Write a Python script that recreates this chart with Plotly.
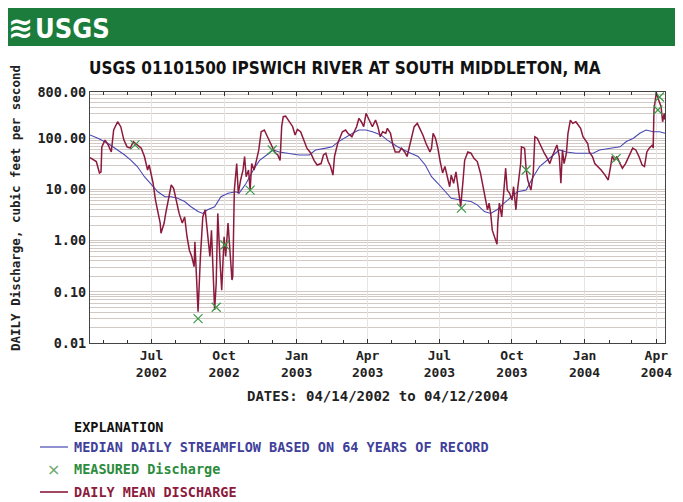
import plotly.graph_objects as go

# ---------------- data ----------------
daily_dates = [
    "2002-04-14","2002-04-16","2002-04-22","2002-04-26","2002-04-28","2002-04-29","2002-05-03","2002-05-07",
    "2002-05-11","2002-05-14","2002-05-19","2002-05-23","2002-05-27","2002-05-31","2002-06-04","2002-06-08",
    "2002-06-13","2002-06-18","2002-06-22","2002-06-26","2002-06-28","2002-07-01","2002-07-03","2002-07-06",
    "2002-07-09","2002-07-12","2002-07-13","2002-07-17","2002-07-19","2002-07-23","2002-07-26","2002-07-29",
    "2002-08-01","2002-08-05","2002-08-09","2002-08-12","2002-08-15","2002-08-18","2002-08-21","2002-08-24",
    "2002-08-25","2002-08-29","2002-09-01","2002-09-04","2002-09-07","2002-09-10","2002-09-13","2002-09-15",
    "2002-09-19","2002-09-21","2002-09-23","2002-09-26","2002-09-28","2002-10-01","2002-10-03","2002-10-06",
    "2002-10-08","2002-10-11","2002-10-12","2002-10-14","2002-10-17","2002-10-19","2002-10-22","2002-10-25",
    "2002-10-27","2002-10-29","2002-11-01","2002-11-03","2002-11-05","2002-11-08","2002-11-11","2002-11-14",
    "2002-11-17","2002-11-21","2002-11-25","2002-11-30","2002-12-04","2002-12-08","2002-12-11","2002-12-13",
    "2002-12-15","2002-12-18","2002-12-23","2002-12-27","2002-12-30","2003-01-02","2003-01-06","2003-01-10",
    "2003-01-14","2003-01-19","2003-01-23","2003-01-27","2003-02-01","2003-02-04","2003-02-07","2003-02-10",
    "2003-02-13","2003-02-16","2003-02-18","2003-02-22","2003-02-24","2003-02-28","2003-03-04","2003-03-07",
    "2003-03-12","2003-03-18","2003-03-21","2003-03-24","2003-03-27","2003-03-30","2003-04-01","2003-04-04",
    "2003-04-07","2003-04-11","2003-04-14","2003-04-17","2003-04-20","2003-04-24","2003-04-26","2003-04-30",
    "2003-05-03","2003-05-06","2003-05-11","2003-05-14","2003-05-18","2003-05-21","2003-05-24","2003-05-27",
    "2003-05-30","2003-06-03","2003-06-06","2003-06-10","2003-06-14","2003-06-19","2003-06-21","2003-06-23",
    "2003-06-26","2003-06-29","2003-07-02","2003-07-05","2003-07-08","2003-07-11","2003-07-14","2003-07-16",
    "2003-07-19","2003-07-22","2003-07-25","2003-07-28","2003-07-31","2003-08-02","2003-08-06","2003-08-10",
    "2003-08-14","2003-08-18","2003-08-22","2003-08-26","2003-08-28","2003-08-31","2003-09-02","2003-09-04",
    "2003-09-06","2003-09-09","2003-09-12","2003-09-13","2003-09-15","2003-09-18","2003-09-20","2003-09-23",
    "2003-09-25","2003-09-28","2003-10-01","2003-10-03","2003-10-06","2003-10-08","2003-10-12","2003-10-13",
    "2003-10-17","2003-10-19","2003-10-21","2003-10-25","2003-10-28","2003-10-30","2003-11-02","2003-11-05",
    "2003-11-08","2003-11-11","2003-11-15","2003-11-18","2003-11-21","2003-11-24","2003-11-27","2003-11-30",
    "2003-12-02","2003-12-04","2003-12-06","2003-12-09","2003-12-11","2003-12-14","2003-12-17","2003-12-21",
    "2003-12-24","2003-12-27","2003-12-30","2004-01-02","2004-01-05","2004-01-07","2004-01-11","2004-01-14",
    "2004-01-18","2004-01-22","2004-01-27","2004-01-31","2004-02-03","2004-02-05","2004-02-08","2004-02-11",
    "2004-02-15","2004-02-18","2004-02-22","2004-02-26","2004-03-02","2004-03-06","2004-03-10","2004-03-14",
    "2004-03-17","2004-03-20","2004-03-23","2004-03-27","2004-03-28","2004-03-29","2004-04-01","2004-04-04",
    "2004-04-07","2004-04-09","2004-04-11","2004-04-12",
]
daily_mean = [
    42, 40, 35, 21, 22, 68, 92, 74,
    54, 145, 210, 168, 92, 68, 64, 86,
    74, 64, 44, 24, 30, 17.7, 13.2, 6.2,
    3.4, 2.2, 1.39, 2.2, 3.4, 7.2, 12.2, 10.5,
    6.2, 3.4, 2.2, 2.9, 1.19, 0.65, 0.49, 0.31,
    0.95, 0.041, 0.49, 2.9, 4.0, 1.39, 0.49, 1.6,
    0.044, 0.147, 3.4, 0.36, 0.108, 1.19, 0.49, 2.2,
    0.76, 0.17, 0.20, 9.7, 32, 8.4, 15.3, 24,
    44, 17.7, 24, 9.7, 32, 24, 37, 59,
    134, 145, 107, 74, 54, 47, 37, 168,
    263, 270, 210, 168, 116, 149, 134, 92,
    64, 51, 37, 30, 32, 47, 51, 35,
    28, 19, 44, 79, 92, 134, 145, 125,
    107, 168, 245, 210, 168, 306, 263, 210,
    168, 226, 168, 107, 134, 125, 156, 125,
    74, 54, 54, 64, 54, 44, 68, 116,
    168, 195, 156, 116, 79, 54, 64, 125,
    100, 64, 35, 21, 28, 17.7, 11.3, 19,
    13.2, 22, 9.7, 4.6, 15.3, 37, 54, 51,
    40, 35, 21, 9.7, 6.2, 4.0, 5.4, 3.4,
    1.6, 1.19, 0.85, 2.2, 5.4, 2.9, 7.2, 26,
    9.7, 8.4, 6.2, 11.3, 4.0, 9.7, 32, 68,
    64, 24, 15.3, 9.7, 21, 107, 100, 79,
    64, 51, 40, 32, 44, 59, 74, 44,
    13.2, 59, 32, 51, 125, 226, 195, 210,
    181, 156, 107, 92, 79, 54, 44, 32,
    28, 24, 19, 15.3, 28, 44, 37, 44,
    32, 26, 32, 44, 64, 59, 44, 30,
    28, 54, 64, 74, 64, 356, 780, 557,
    412, 210, 306, 230,
]

median_dates = [
    "2002-04-14","2002-04-24","2002-05-07","2002-05-19","2002-05-28","2002-06-05","2002-06-13","2002-06-22",
    "2002-07-01","2002-07-09","2002-07-18","2002-07-26","2002-08-03","2002-08-12","2002-08-20","2002-08-29",
    "2002-09-04","2002-09-10","2002-09-19","2002-09-27","2002-10-06","2002-10-16","2002-10-20","2002-10-29",
    "2002-11-07","2002-11-15","2002-11-24","2002-12-02","2002-12-10","2002-12-23","2003-01-04","2003-01-17",
    "2003-01-25","2003-02-07","2003-02-15","2003-02-23","2003-03-05","2003-03-13","2003-03-21","2003-03-30",
    "2003-04-07","2003-04-18","2003-04-26","2003-05-09","2003-05-22","2003-06-04","2003-06-13","2003-06-21",
    "2003-06-29","2003-07-07","2003-07-16","2003-07-28","2003-08-10","2003-08-18","2003-08-27","2003-09-04",
    "2003-09-12","2003-09-21","2003-09-30","2003-10-08","2003-10-19","2003-10-28","2003-11-05","2003-11-14",
    "2003-11-22","2003-11-30","2003-12-09","2003-12-21","2004-01-03","2004-01-12","2004-01-20","2004-02-02",
    "2004-02-15","2004-02-23","2004-03-03","2004-03-11","2004-03-19","2004-03-28","2004-04-05","2004-04-12",
]
median_flow = [
    116, 100, 79, 59, 47, 37, 28, 17.7,
    12.2, 9.0, 7.2, 7.2, 6.7, 5.8, 4.6, 3.7,
    3.4, 4.0, 4.6, 7.2, 8.4, 9.0, 8.4, 13.2,
    24, 37, 47, 59, 54, 51, 47, 47,
    59, 64, 68, 86, 107, 125, 145, 145,
    134, 116, 92, 68, 54, 44, 30, 17.7,
    13.2, 9.7, 6.7, 6.2, 5.8, 5.0, 3.7, 3.4,
    4.0, 5.4, 7.2, 9.0, 9.7, 17.7, 28, 37,
    47, 59, 54, 51, 51, 51, 59, 64,
    68, 86, 100, 125, 145, 134, 134, 125,
]

measured_dates = ["2002-06-10", "2002-08-29", "2002-09-21", "2002-10-02", "2002-11-03", "2002-12-01",
                  "2003-07-29", "2003-10-19", "2004-02-10", "2004-04-03", "2004-04-05"]
measured_flow = [74, 0.030, 0.050, 0.82, 9.7, 59, 4.3, 24, 40, 356, 640]

y_tick_vals = [0.01, 0.1, 1, 10, 100, 800]
y_tick_text = ["0.01", "0.10", "1.00", "10.00", "100.00", "800.00"]
x_tick_vals = ["2002-07-01", "2002-10-01", "2003-01-01", "2003-04-01",
               "2003-07-01", "2003-10-01", "2004-01-01", "2004-04-01"]
x_tick_text = ["Jul<br>2002", "Oct<br>2002", "Jan<br>2003", "Apr<br>2003",
               "Jul<br>2003", "Oct<br>2003", "Jan<br>2004", "Apr<br>2004"]
month_ticks = ["2002-05-01", "2002-06-01", "2002-07-01", "2002-08-01", "2002-09-01", "2002-10-01",
               "2002-11-01", "2002-12-01", "2003-01-01", "2003-02-01", "2003-03-01", "2003-04-01",
               "2003-05-01", "2003-06-01", "2003-07-01", "2003-08-01", "2003-09-01", "2003-10-01",
               "2003-11-01", "2003-12-01", "2004-01-01", "2004-02-01", "2004-03-01", "2004-04-01"]

# ---------------- styling ----------------
RED = "#8c1a3c"
BLUE = "#4848b4"
GREEN = "#3a9a46"
MONO = "DejaVu Sans Mono"
NARROW = "Liberation Sans Narrow, DejaVu Sans Condensed, Arial Narrow, Liberation Sans, sans-serif"
GRID = "#d2c8c4"

minor_y = [m * 10.0 ** e for e in range(-2, 3) for m in range(2, 10) if m * 10.0 ** e < 800]

fig = go.Figure()
fig.add_trace(go.Scatter(x=median_dates, y=median_flow, mode="lines",
                         line=dict(color=BLUE, width=1.1), showlegend=False))
fig.add_trace(go.Scatter(x=daily_dates, y=daily_mean, mode="lines",
                         line=dict(color=RED, width=1.5), showlegend=False))
fig.add_trace(go.Scatter(x=measured_dates, y=measured_flow, mode="markers",
                         marker=dict(symbol="x-thin", size=9, line=dict(color=GREEN, width=1.2)),
                         showlegend=False))

# the page body has an 8px margin: lay out in page pixels, shifted by it
OFF = 8
W, H = 683 - OFF, 502 - OFF
L, R, T, B = 90, 665, 92, 343


def px(x):
    return (x - L) / (R - L)


def py(y):
    return (B - y) / (B - T)


fig.update_layout(
    width=W, height=H,
    margin=dict(l=L - OFF, r=W - (R - OFF), t=T - OFF, b=H - (B - OFF), pad=0),
    paper_bgcolor="white", plot_bgcolor="white",
    showlegend=False,
    xaxis=dict(
        type="date", range=["2002-04-14", "2004-04-12"],
        tickmode="array", tickvals=x_tick_vals, ticktext=x_tick_text,
        tickfont=dict(family=MONO, size=13, color="#222", weight="bold"),
        ticks="inside", ticklen=4, tickcolor="#333",
        showgrid=True, gridcolor="#e4e4e4", gridwidth=1,
        minor=dict(tickmode="array", tickvals=month_ticks, ticks="inside", ticklen=3,
                   tickcolor="#333", showgrid=False),
        showline=True, linecolor="#444", linewidth=1.2, mirror="allticks",
        zeroline=False,
    ),
    yaxis=dict(
        type="log", range=[-2, 2.9031],
        tickmode="array", tickvals=y_tick_vals, ticktext=y_tick_text,
        tickfont=dict(family=MONO, size=13.5, color="#222", weight="bold"),
        ticks="", showgrid=True, gridcolor=GRID, gridwidth=1,
        minor=dict(tickmode="array", tickvals=minor_y, showgrid=True, gridcolor=GRID,
                   gridwidth=1, ticks=""),
        showline=True, linecolor="#444", linewidth=1.2, mirror=True,
        zeroline=False,
    ),
)

shapes = [
    dict(type="rect", xref="paper", yref="paper", x0=px(3), x1=px(675), y0=py(46), y1=py(8),
         fillcolor="#1c7c3c", line=dict(width=0), layer="below"),
    dict(type="line", xref="paper", yref="paper", x0=px(40), x1=px(68), y0=py(447), y1=py(447),
         line=dict(color=BLUE, width=1.2)),
    dict(type="line", xref="paper", yref="paper", x0=px(40), x1=px(68), y0=py(492), y1=py(492),
         line=dict(color=RED, width=1.6)),
]

annotations = [
    dict(text="≋", x=px(20), y=py(27), font=dict(family="DejaVu Sans", size=30, color="white", weight="bold")),
    dict(text="USGS", x=px(33), y=py(28), xanchor="left",
         font=dict(family=NARROW, size=27, color="white", weight="bold")),
    dict(text="USGS 01101500 IPSWICH RIVER AT SOUTH MIDDLETON, MA", x=px(345), y=py(68),
         font=dict(family=NARROW, size=17, color="#111", weight="bold")),
    dict(text="DAILY Discharge, cubic feet per second", x=px(15), y=py(353), yanchor="bottom",
         textangle=-90, font=dict(family=MONO, size=12.5, color="#222", weight="bold")),
    dict(text="DATES: 04/14/2002 to 04/12/2004", x=px(377), y=py(396),
         font=dict(family=MONO, size=14, color="#222", weight="bold")),
    dict(text="EXPLANATION", x=px(72), y=py(427), xanchor="left",
         font=dict(family=MONO, size=13.5, color="#111", weight="bold")),
    dict(text="MEDIAN DAILY STREAMFLOW BASED ON 64 YEARS OF RECORD", x=px(72), y=py(447), xanchor="left",
         font=dict(family=MONO, size=13.5, color="#40409a", weight="bold")),
    dict(text="×", x=px(53), y=py(469),
         font=dict(family="DejaVu Sans", size=16, color="#6aa86a")),
    dict(text="MEASURED Discharge", x=px(72), y=py(469), xanchor="left",
         font=dict(family=MONO, size=13.5, color="#2c8c3c", weight="bold")),
    dict(text="DAILY MEAN DISCHARGE", x=px(72), y=py(492), xanchor="left",
         font=dict(family=MONO, size=13.5, color=RED, weight="bold")),
]
for a in annotations:
    a.setdefault("xanchor", "center")
    a.setdefault("yanchor", "middle")
    a.update(xref="paper", yref="paper", showarrow=False)

fig.update_layout(shapes=shapes, annotations=annotations)

fig.write_html("out.html")
